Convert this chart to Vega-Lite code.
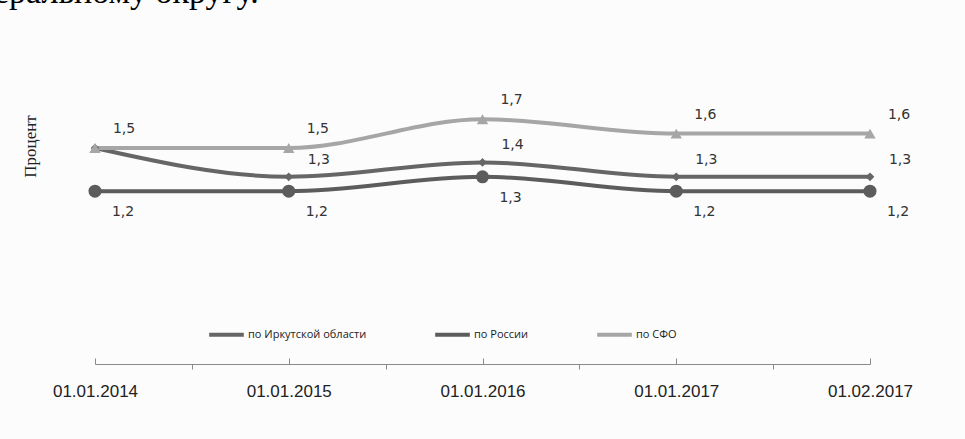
{
  "$schema": "https://vega.github.io/schema/vega-lite/v6.json",
  "width": 775,
  "height": 288,
  "autosize": "none",
  "padding": {"left": 95, "top": 76, "right": 95, "bottom": 75},
  "background": "#fcfcfc",
  "title": {
    "text": "еральному округу.",
    "font": "Liberation Serif",
    "fontSize": 34,
    "fontWeight": "normal",
    "color": "#000000",
    "anchor": "start",
    "frame": "group",
    "baseline": "alphabetic",
    "offset": 39,
    "dx": -101
  },
  "config": {
    "view": {"stroke": null},
    "locale": {"number": {"decimal": ",", "thousands": " ", "grouping": [3], "currency": ["", ""]}}
  },
  "data": {
    "values": [
      {"date": "01.01.2014", "series": "по Иркутской области", "value": 1.5},
      {"date": "01.01.2015", "series": "по Иркутской области", "value": 1.3},
      {"date": "01.01.2016", "series": "по Иркутской области", "value": 1.4},
      {"date": "01.01.2017", "series": "по Иркутской области", "value": 1.3},
      {"date": "01.02.2017", "series": "по Иркутской области", "value": 1.3},
      {"date": "01.01.2014", "series": "по России", "value": 1.2},
      {"date": "01.01.2015", "series": "по России", "value": 1.2},
      {"date": "01.01.2016", "series": "по России", "value": 1.3},
      {"date": "01.01.2017", "series": "по России", "value": 1.2},
      {"date": "01.02.2017", "series": "по России", "value": 1.2},
      {"date": "01.01.2014", "series": "по СФО", "value": 1.5},
      {"date": "01.01.2015", "series": "по СФО", "value": 1.5},
      {"date": "01.01.2016", "series": "по СФО", "value": 1.7},
      {"date": "01.01.2017", "series": "по СФО", "value": 1.6},
      {"date": "01.02.2017", "series": "по СФО", "value": 1.6}
    ]
  },
  "encoding": {
    "x": {
      "field": "date",
      "type": "ordinal",
      "scale": {"type": "point", "padding": 0},
      "sort": null
    },
    "y": {
      "field": "value",
      "type": "quantitative",
      "scale": {"domain": [0, 2], "nice": false, "zero": true},
      "axis": {
        "title": "Процент",
        "titleFont": "Liberation Serif",
        "titleFontSize": 17,
        "titleFontWeight": "normal",
        "titleColor": "#222222",
        "titleX": -65,
        "titleY": 70,
        "titleAngle": 270,
        "titleAlign": "center",
        "titleBaseline": "middle",
        "domain": false,
        "ticks": false,
        "labels": false,
        "grid": false
      }
    },
    "color": {
      "field": "series",
      "type": "nominal",
      "sort": ["по Иркутской области", "по России", "по СФО"],
      "scale": {
        "domain": ["по Иркутской области", "по России", "по СФО"],
        "range": ["#666666", "#5c5c5c", "#a6a6a6"]
      },
      "legend": {
        "title": null,
        "orient": "none",
        "legendX": 112,
        "legendY": 239,
        "direction": "horizontal",
        "symbolType": "stroke",
        "symbolSize": 1200,
        "symbolStrokeWidth": 4,
        "labelFont": "Open Sans",
        "labelFontSize": 11,
        "labelColor": "#222222",
        "labelOffset": 2,
        "columnPadding": 60
      }
    }
  },
  "layer": [
    {
      "mark": {"type": "line", "interpolate": "monotone", "strokeWidth": 4},
      "encoding": {
        "x": {
          "field": "date",
          "type": "ordinal",
          "scale": {"type": "point", "padding": 0},
          "sort": null,
          "axis": {
            "title": null,
            "orient": "bottom",
            "labelAngle": 0,
            "labelFont": "Liberation Sans",
            "labelFontSize": 17,
            "labelColor": "#222222",
            "labelPadding": 25,
            "domainColor": "#8a8a8a",
            "tickColor": "#8a8a8a",
            "tickSize": -6,
            "grid": false
          }
        }
      }
    },
    {
      "transform": [{"filter": "datum.series === 'по Иркутской области'"}],
      "mark": {"type": "point", "shape": "diamond", "size": 75, "filled": true, "opacity": 1},
      "encoding": {
        "x": {
          "field": "date",
          "type": "ordinal",
          "scale": {"type": "point", "padding": 0},
          "sort": null,
          "axis": {
            "title": null,
            "orient": "bottom",
            "labels": false,
            "domain": false,
            "grid": false,
            "tickColor": "#8a8a8a",
            "tickSize": 5,
            "tickOffset": 96.875
          }
        }
      }
    },
    {
      "transform": [{"filter": "datum.series === 'по России'"}],
      "mark": {"type": "point", "shape": "circle", "size": 170, "filled": true, "opacity": 1},
      "encoding": {
        "x": {
          "field": "date",
          "type": "ordinal",
          "scale": {"type": "point", "padding": 0},
          "sort": null,
          "axis": null
        }
      }
    },
    {
      "transform": [{"filter": "datum.series === 'по СФО'"}],
      "mark": {"type": "point", "shape": "triangle-up", "size": 130, "filled": true, "opacity": 1},
      "encoding": {
        "x": {
          "field": "date",
          "type": "ordinal",
          "scale": {"type": "point", "padding": 0},
          "sort": null,
          "axis": null
        }
      }
    },
    {
      "transform": [{"filter": "datum.series === 'по СФО'"}],
      "mark": {"type": "text", "dx": 29, "dy": -19, "font": "DejaVu Sans", "fontSize": 14},
      "encoding": {
        "x": {"field": "date", "type": "ordinal", "scale": {"type": "point", "padding": 0}, "sort": null, "axis": null},
        "text": {"field": "value", "type": "quantitative", "format": ".1f"},
        "color": {"value": "#333333"}
      }
    },
    {
      "transform": [{"filter": "datum.series === 'по Иркутской области' && datum.date !== '01.01.2014'"}],
      "mark": {"type": "text", "dx": 30, "dy": -17, "font": "DejaVu Sans", "fontSize": 14},
      "encoding": {
        "x": {"field": "date", "type": "ordinal", "scale": {"type": "point", "padding": 0}, "sort": null, "axis": null},
        "text": {"field": "value", "type": "quantitative", "format": ".1f"},
        "color": {"value": "#333333"}
      }
    },
    {
      "transform": [{"filter": "datum.series === 'по России'"}],
      "mark": {"type": "text", "dx": 28, "dy": 21, "font": "DejaVu Sans", "fontSize": 14},
      "encoding": {
        "x": {"field": "date", "type": "ordinal", "scale": {"type": "point", "padding": 0}, "sort": null, "axis": null},
        "text": {"field": "value", "type": "quantitative", "format": ".1f"},
        "color": {"value": "#333333"}
      }
    }
  ],
  "resolve": {"axis": {"x": "independent"}}
}
